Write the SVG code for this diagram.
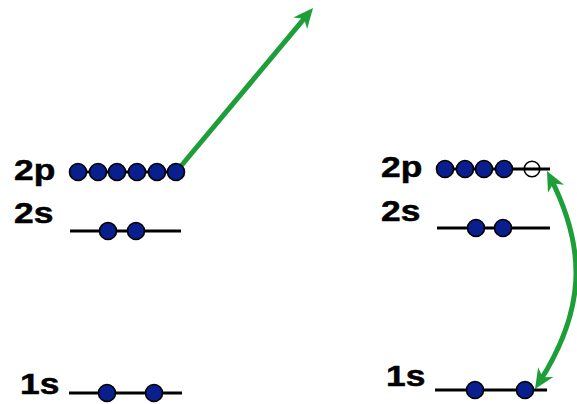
<svg xmlns="http://www.w3.org/2000/svg" width="577" height="404" viewBox="0 0 577 404">
<style>
.lvl{stroke:#000;stroke-width:3;fill:none}
.e{fill:#0a1f8e;stroke:#000;stroke-width:1.6}
.h{fill:none;stroke:#000;stroke-width:1.6}
.lab{font-family:"Liberation Sans",Arial,sans-serif;font-weight:bold;font-size:30px;fill:#000;stroke:#000;stroke-width:0.5}
.arr{stroke:#1d9e38;stroke-width:5;fill:none}
</style>
<defs>
<marker id="ah" markerUnits="userSpaceOnUse" viewBox="-13 -10 23 20" markerWidth="23" markerHeight="20" refX="0" refY="0" orient="auto-start-reverse" overflow="visible">
<path d="M8,0 L-12,-9 L-6,0 L-12,9 Z" fill="#1d9e38"/>
</marker>
</defs>
<g id="connectors">
<line class="arr" x1="176" y1="172" x2="307.9" y2="14.1" marker-end="url(#ah)"/>
<path class="arr" d="M550.6,178.1 C588,252 584,312 539.3,382.2" marker-start="url(#ah)" marker-end="url(#ah)"/>
</g>
<g id="left-2p">
<line class="lvl" x1="70" y1="172" x2="181" y2="172"/>
<circle class="e" cx="78" cy="172" r="8.5"/>
<circle class="e" cx="98" cy="172" r="8.5"/>
<circle class="e" cx="117" cy="172" r="8.5"/>
<circle class="e" cx="137" cy="172" r="8.5"/>
<circle class="e" cx="157" cy="172" r="8.5"/>
<circle class="e" cx="176" cy="172" r="8.5"/>
<text class="lab" transform="translate(14,180) scale(1.18,1)">2p</text>
</g>
<g id="left-2s">
<line class="lvl" x1="70" y1="231" x2="181" y2="231"/>
<circle class="e" cx="108" cy="231" r="8.5"/>
<circle class="e" cx="136" cy="231" r="8.5"/>
<text class="lab" transform="translate(14,223) scale(1.18,1)">2s</text>
</g>
<g id="left-1s">
<line class="lvl" x1="69" y1="393" x2="182" y2="393"/>
<circle class="e" cx="107" cy="393" r="8.5"/>
<circle class="e" cx="154" cy="393" r="8.5"/>
<text class="lab" transform="translate(20,394) scale(1.18,1)">1s</text>
</g>
<g id="right-2p">
<line class="lvl" x1="440" y1="169" x2="550" y2="169"/>
<circle class="e" cx="445" cy="169" r="8.5"/>
<circle class="e" cx="465" cy="169" r="8.5"/>
<circle class="e" cx="484" cy="169" r="8.5"/>
<circle class="e" cx="504" cy="169" r="8.5"/>
<circle class="h" cx="532" cy="169" r="7.8"/>
<text class="lab" transform="translate(381,177) scale(1.18,1)">2p</text>
</g>
<g id="right-2s">
<line class="lvl" x1="437" y1="228" x2="550" y2="228"/>
<circle class="e" cx="476" cy="228" r="8.5"/>
<circle class="e" cx="503" cy="228" r="8.5"/>
<text class="lab" transform="translate(381,221) scale(1.18,1)">2s</text>
</g>
<g id="right-1s">
<line class="lvl" x1="435" y1="390" x2="547" y2="390"/>
<circle class="e" cx="475" cy="390" r="8.5"/>
<circle class="e" cx="525" cy="390" r="8.5"/>
<text class="lab" transform="translate(386,386) scale(1.18,1)">1s</text>
</g>
</svg>
